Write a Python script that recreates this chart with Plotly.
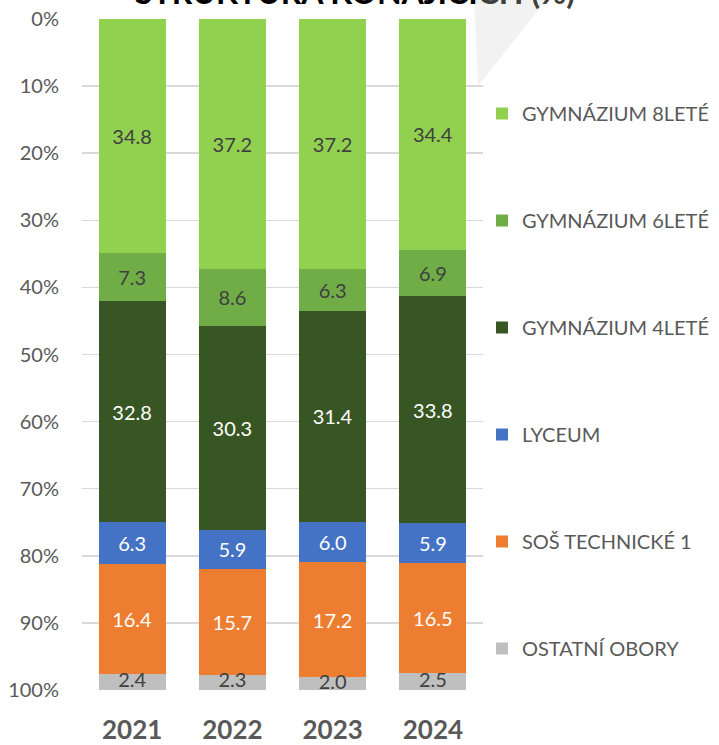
import plotly.graph_objects as go

# ---- data ----
years = ["2021", "2022", "2023", "2024"]
series_names = ["GYMNÁZIUM 8LETÉ", "GYMNÁZIUM 6LETÉ", "GYMNÁZIUM 4LETÉ",
                "LYCEUM", "SOŠ TECHNICKÉ 1", "OSTATNÍ OBORY"]
gym8 = [34.8, 37.2, 37.2, 34.4]
gym6 = [7.3, 8.6, 6.3, 6.9]
gym4 = [32.8, 30.3, 31.4, 33.8]
lyceum = [6.3, 5.9, 6.0, 5.9]
sos_tech = [16.4, 15.7, 17.2, 16.5]
ostatni = [2.4, 2.3, 2.0, 2.5]
y_ticks = [0, 10, 20, 30, 40, 50, 60, 70, 80, 90, 100]
y_tick_labels = [f"{v}%" for v in y_ticks]
title_text = "STRUKTURA KONAJÍCÍCH (%)"

series_values = [gym8, gym6, gym4, lyceum, sos_tech, ostatni]
colors = ["#92D050", "#70AD47", "#375623", "#4472C4", "#ED7D31", "#BFBFBF"]
label_colors = ["#404040", "#404040", "#FFFFFF", "#FFFFFF", "#FFFFFF", "#404040"]

W, H = 719, 745
ML, MR, MT, MB = 82, 236, 19, 55
PW = W - ML - MR
PH = H - MT - MB
FONT = "Lato"
LABEL_SIZE = 20

def px_x(x):
    return (x - ML) / PW

def px_y(y):
    return (H - MB - y) / PH

fig = go.Figure()
n = len(series_names)
for i, (name, vals) in enumerate(zip(series_names, series_values)):
    last = (i == n - 1)
    fig.add_trace(go.Bar(
        x=years, y=vals, name=name,
        marker=dict(color=colors[i], line=dict(width=0)),
        text=None if last else vals,
        texttemplate=None if last else "%{y:.1f}",
        textposition="none" if last else "inside",
        insidetextanchor="middle",
        textangle=0, constraintext="none",
        textfont=dict(family=FONT, size=LABEL_SIZE, color=label_colors[i]),
        legendgroup=f"g{i}",
        hoverinfo="skip",
    ))

# labels of the thin bottom segment (too thin for the bar's own inside text)
base_before = [sum(s[k] for s in series_values[:-1]) for k in range(len(years))]
mid_last = [b + v / 2 for b, v in zip(base_before, ostatni)]
fig.add_trace(go.Scatter(
    x=years, y=mid_last, mode="text",
    text=[f"{v:.1f}" for v in ostatni], textposition="middle center",
    textfont=dict(family=FONT, size=LABEL_SIZE, color=label_colors[-1]),
    showlegend=False, hoverinfo="skip", cliponaxis=False,
))

# decorative light-grey triangle at top right
tri = [(474, -6), (478, 86), (551, -6)]
path = "M {} {} L {} {} L {} {} Z".format(
    px_x(tri[0][0]), px_y(tri[0][1]), px_x(tri[1][0]), px_y(tri[1][1]),
    px_x(tri[2][0]), px_y(tri[2][1]))
fig.add_shape(type="path", path=path, xref="paper", yref="paper",
              fillcolor="#F2F2F2", line=dict(width=0), layer="below")

# title (mostly cut off at the top of the picture)
split = title_text.index("CH (")
title_html = (title_text[:split] +
              f"<span style='color:#404040'>{title_text[split:]}</span>")
fig.add_annotation(text=title_html, xref="paper", yref="paper",
                   x=px_x(355), y=px_y(13), xanchor="center", yanchor="bottom",
                   showarrow=False,
                   font=dict(family=FONT, size=32, color="#000000", weight="bold"))

fig.update_layout(
    width=W, height=H,
    margin=dict(l=ML, r=MR, t=MT, b=MB, pad=0, autoexpand=False),
    barmode="stack", bargap=0.33,
    paper_bgcolor="white", plot_bgcolor="white",
    font=dict(family=FONT, color="#595959"),
    showlegend=True,
    legend=dict(
        xref="container", yref="container",
        x=482 / W, y=1 - 94 / H, xanchor="left", yanchor="top",
        font=dict(family=FONT, size=20, color="#595959"),
        tracegroupgap=78, traceorder="grouped",
        maxheight=740,
        bgcolor="rgba(0,0,0,0)", borderwidth=0,
        itemclick=False, itemdoubleclick=False,
    ),
    xaxis=dict(
        type="category", showgrid=False, zeroline=False, showline=False,
        ticks="", ticklabelstandoff=22,
        tickfont=dict(family=FONT, size=26, color="#595959", weight="bold"),
    ),
    yaxis=dict(
        range=[100, 0], tickvals=y_ticks, ticktext=y_tick_labels,
        showgrid=True, gridcolor="#D9D9D9", gridwidth=1.5,
        zeroline=False, showline=False, ticks="", ticklabelstandoff=22,
        tickfont=dict(family=FONT, size=20, color="#595959"),
    ),
)

fig.write_html(
    "out.html",
    config={"displayModeBar": False, "staticPlot": True},
    post_script="document.body.style.margin='0';document.body.style.overflow='hidden';",
)
